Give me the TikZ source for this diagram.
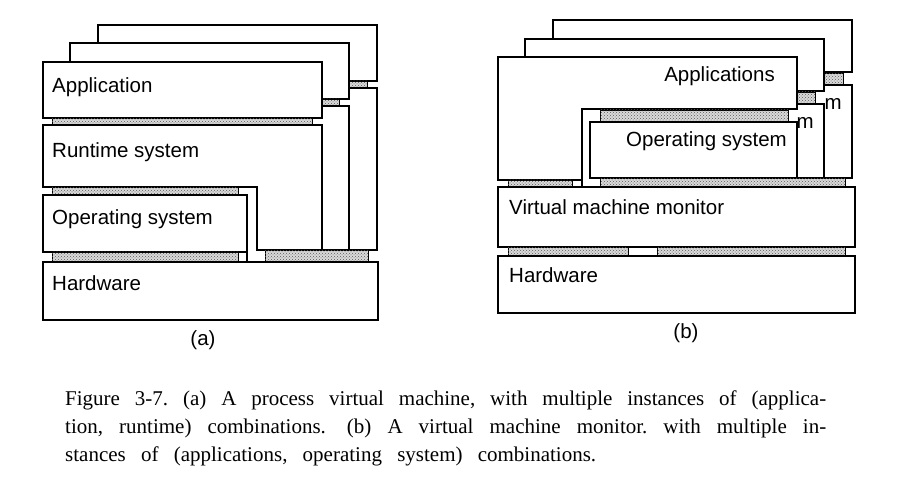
\documentclass[tikz,border=0pt]{standalone}
\usepackage{fontspec}
\setmainfont{Liberation Serif}
\setsansfont{Liberation Sans}
\usetikzlibrary{patterns}
\tikzstyle{layer} = [draw,fill=white,line width=1.2pt]
\tikzstyle{gap} = [draw,line width=0.6pt,fill=gray!30,postaction={pattern=crosshatch dots,pattern color=gray!70!black}]
\tikzstyle{boxtext} = [inner sep=0pt,font=\sffamily\fontsize{20.5}{24}\selectfont]
\tikzstyle{captext} = [inner sep=0pt,anchor=base west,font=\rmfamily\fontsize{21}{25}\selectfont\frenchspacing]

\begin{document}
\begin{tikzpicture}[x=1pt,y=-1pt]
\useasboundingbox (0,0) rectangle (904,486);

% (a) process virtual machine, copies behind first
\foreach \dx/\dy in {55/-37,27/-19} {
  \draw[layer] (43+\dx,62+\dy) rectangle (322+\dx,118+\dy);
  \draw[gap] (52+\dx,118+\dy) rectangle (312+\dx,125+\dy);
  \draw[layer] (43+\dx,125+\dy) -- (322+\dx,125+\dy) -- (322+\dx,250) -- (257+\dx,250)
    -- (257+\dx,187+\dy) -- (43+\dx,187+\dy) -- cycle;
}
\draw[layer] (43,62) rectangle (322,118);
\node[boxtext,anchor=base west] (app) at (52,93) {Application};
\draw[gap] (52,118) rectangle (312,125);
\draw[layer] (43,125) -- (322,125) -- (322,250) -- (257,250) -- (257,187) -- (43,187) -- cycle;
\node[boxtext,anchor=base west] (runtime) at (52,158) {Runtime system};
\draw[gap] (52,187) rectangle (238,195);
\draw[layer] (43,195) rectangle (247,252);
\node[boxtext,anchor=base west] (osa) at (52,225) {Operating system};
\draw[gap] (52,252) rectangle (238,262);
\draw[gap] (265,250) rectangle (368,262);
\draw[line width=1.2pt] (247,252) -- (247,262);
\draw[layer] (43,262) rectangle (378,320);
\node[boxtext,anchor=base west] (hwa) at (52,290) {Hardware};
\node[boxtext] (capa) at (203,340) {(a)};

% (b) virtual machine monitor
\foreach \dx/\dy in {55/-37,27/-18} {
  \draw[layer] (498+\dx,57+\dy) rectangle (797+\dx,109+\dy);
  \draw[gap] (600+\dx,110+\dy) rectangle (788+\dx,122+\dy);
  \draw[layer] (590+\dx,122+\dy) rectangle (797+\dx,178);
  \node[boxtext,anchor=base east] (os-\dx) at (787+\dx,147+\dy) {m};
}
\draw[layer] (498,57) -- (797,57) -- (797,109) -- (582,109) -- (582,180) -- (498,180) -- cycle;
\node[boxtext,anchor=base east] (apps) at (775,82) {Applications};
\draw[gap] (600,110) rectangle (788,122);
\draw[layer] (590,122) rectangle (797,178);
\node[boxtext,anchor=base east] (osb) at (787,147) {Operating system};
\draw[gap] (508,180) rectangle (572,187);
\draw[gap] (600,178) rectangle (845,187);
\draw[line width=1.2pt] (582,180) -- (582,187);
\draw[layer] (498,187) rectangle (855,247);
\node[boxtext,anchor=base west] (vmm) at (509,215) {Virtual machine monitor};
\draw[gap] (508,247) rectangle (628,256);
\draw[gap] (657,247) rectangle (845,256);
\draw[layer] (498,256) rectangle (855,313);
\node[boxtext,anchor=base west] (hwb) at (509,282) {Hardware};
\node[boxtext] (capb) at (686,333) {(b)};

% caption
\node[captext] (cap1) at (65,405) {\makebox[761pt][s]{Figure 3-7. (a) A process virtual machine, with multiple instances of (applica-}};
\node[captext] (cap2) at (65,433) {\makebox[761pt][s]{tion, runtime) combinations.\quad (b) A virtual machine monitor. with multiple in-}};
\node[captext] (cap3) at (65,461) {\makebox[531pt][s]{stances of (applications, operating system) combinations.}};
\end{tikzpicture}
\end{document}
